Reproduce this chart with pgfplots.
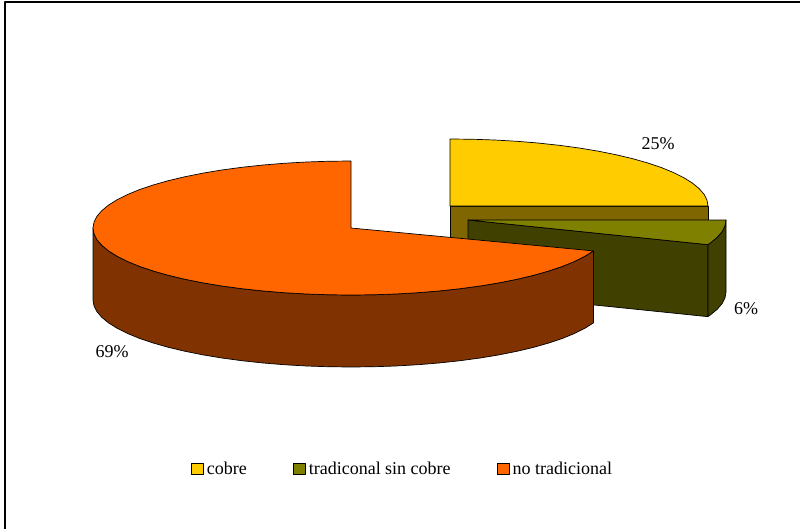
\documentclass[border=0pt]{standalone}
\usepackage{pgfplots}
\pgfplotsset{compat=1.18}
\usepackage{fontspec}
\setmainfont{Liberation Serif}
\definecolor{cobreTop}{HTML}{FFCC00}
\definecolor{cobreSide}{HTML}{806600}
\definecolor{tradTop}{HTML}{808000}
\definecolor{tradSide}{HTML}{404000}
\definecolor{noTradTop}{HTML}{FF6600}
\definecolor{noTradSide}{HTML}{803300}
\newcommand{\chartfont}{\fontsize{18bp}{20bp}\selectfont}
\begin{document}
\begin{tikzpicture}
\useasboundingbox (0,0) rectangle (800bp,529bp);
\begin{axis}[
  at={(0,0)}, anchor=south west,
  scale only axis, width=800bp, height=529bp,
  xmin=0, xmax=800, ymin=0, ymax=529, y dir=reverse,
  hide axis,
  every axis plot/.append style={draw=black, line width=0.7bp, line join=round},
  legend columns=3,
  legend style={at={(axis cs:191,469)}, anchor=west, draw=none, fill=none,
    inner sep=0pt, outer sep=0pt, font=\chartfont,
    /tikz/every even column/.append style={column sep=46bp},
    /tikz/every odd column/.append style={column sep=3.3bp},
    nodes={inner sep=0pt, outer sep=0pt, anchor=west}},
  legend cell align=left,
  legend image code/.code={\draw[#1, line width=0.6bp] (0bp,-5.5bp) rectangle (12bp,6bp);},
]
% outer frame of the chart area
\addplot[forget plot, draw=black, line width=1.7bp, line cap=butt] coordinates {(5,529) (5,1.9) (800,1.9)};

% cobre: 25 %, side wall then top face
\addplot[forget plot, fill=cobreSide] coordinates {(450,206) (708,206) (708,278) (450,278)} -- cycle;
\addplot[fill=cobreTop] coordinates {
  (450,206) (450,139) (472.5,139.25) (494.8,140.02) (516.8,141.28) (538.2,143.04)
  (559.0,145.28) (579.0,147.98) (598.0,151.11) (615.8,154.68) (632.4,158.62)
  (647.6,162.93) (661.4,167.57) (673.4,172.5) (683.8,177.69) (692.4,183.09)
  (699.2,188.66) (704.1,194.37) (707.0,200.16) (708,206)} -- cycle;
\addlegendentry{cobre}

% tradicional sin cobre: 6 %, cut wall, rim wall, top face
\addplot[forget plot, fill=tradSide] coordinates {(468,220) (707.9,244.66) (707.9,316.66) (468,292)} -- cycle;
\addplot[forget plot, fill=tradSide] coordinates {
  (707.9,244.66) (710.4,242.91) (717.2,237.34) (722.1,231.63) (725,225.84) (726,220)
  (726,292) (725,297.84) (722.1,303.63) (717.2,309.34) (710.4,314.91) (707.9,316.66)} -- cycle;
\addplot[fill=tradTop] coordinates {
  (468,220) (726,220) (725,225.84) (722.1,231.63) (717.2,237.34) (710.4,242.91) (707.9,244.66)} -- cycle;
\addlegendentry{tradiconal sin cobre}

% no tradicional: 69 %, rim wall then top face
\addplot[forget plot, fill=noTradSide] coordinates {
  (93,228) (94.0,233.84) (96.9,239.63) (101.8,245.34) (108.6,250.91) (117.2,256.31)
  (127.6,261.5) (139.6,266.43) (153.4,271.07) (168.6,275.38) (185.2,279.32) (203.0,282.89)
  (222.0,286.02) (242.0,288.72) (262.8,290.96) (284.2,292.72) (306.2,293.98) (328.5,294.75)
  (351,295) (373.5,294.75) (395.8,293.98) (417.8,292.72) (439.2,290.96) (460.0,288.72)
  (480.0,286.02) (499.0,282.89) (516.8,279.32) (533.4,275.38) (548.6,271.07) (562.4,266.43)
  (574.4,261.5) (584.8,256.31) (593.4,250.91)
  (593.4,322.91) (584.8,328.31) (574.4,333.5) (562.4,338.43) (548.6,343.07) (533.4,347.38)
  (516.8,351.32) (499.0,354.89) (480.0,358.02) (460.0,360.72) (439.2,362.96) (417.8,364.72)
  (395.8,365.98) (373.5,366.75) (351,367) (328.5,366.75) (306.2,365.98) (284.2,364.72)
  (262.8,362.96) (242.0,360.72) (222.0,358.02) (203.0,354.89) (185.2,351.32) (168.6,347.38)
  (153.4,343.07) (139.6,338.43) (127.6,333.5) (117.2,328.31) (108.6,322.91) (101.8,317.34)
  (96.9,311.63) (94.0,305.84) (93,300)} -- cycle;
\addplot[fill=noTradTop] coordinates {
  (351,228) (351,161) (328.5,161.25) (306.2,162.02) (284.2,163.28) (262.8,165.04)
  (242.0,167.28) (222.0,169.98) (203.0,173.11) (185.2,176.68) (168.6,180.62) (153.4,184.93)
  (139.6,189.57) (127.6,194.5) (117.2,199.69) (108.6,205.09) (101.8,210.66) (96.9,216.37)
  (94.0,222.16) (93,228) (94.0,233.84) (96.9,239.63) (101.8,245.34) (108.6,250.91)
  (117.2,256.31) (127.6,261.5) (139.6,266.43) (153.4,271.07) (168.6,275.38) (185.2,279.32)
  (203.0,282.89) (222.0,286.02) (242.0,288.72) (262.8,290.96) (284.2,292.72) (306.2,293.98)
  (328.5,294.75) (351,295) (373.5,294.75) (395.8,293.98) (417.8,292.72) (439.2,290.96)
  (460.0,288.72) (480.0,286.02) (499.0,282.89) (516.8,279.32) (533.4,275.38) (548.6,271.07)
  (562.4,266.43) (574.4,261.5) (584.8,256.31) (593.4,250.91)} -- cycle;
\addlegendentry{no tradicional}

% percentage labels
\node[font=\chartfont, text=black] at (axis cs:658,144) {25\%};
\node[font=\chartfont, text=black] at (axis cs:746,309) {6\%};
\node[font=\chartfont, text=black] at (axis cs:112,352) {69\%};
\end{axis}
\end{tikzpicture}
\end{document}
